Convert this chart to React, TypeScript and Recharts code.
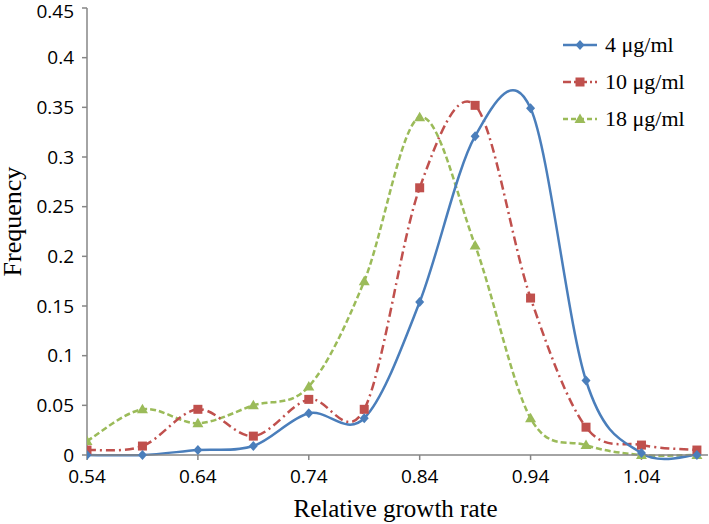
import React from "react";
import { LineChart, Line, XAxis, YAxis } from "recharts";

const growthRates = [0.54, 0.59, 0.64, 0.69, 0.74, 0.79, 0.84, 0.89, 0.94, 0.99, 1.04, 1.09];
const freq4 = [0, 0, 0.005, 0.009, 0.042, 0.037, 0.154, 0.321, 0.349, 0.075, 0.002, 0];
const freq10 = [0.005, 0.009, 0.046, 0.019, 0.056, 0.046, 0.269, 0.352, 0.158, 0.028, 0.01, 0.005];
const freq18 = [0.014, 0.046, 0.032, 0.05, 0.069, 0.175, 0.34, 0.211, 0.037, 0.01, 0, 0];
const xTicks = [0.54, 0.64, 0.74, 0.84, 0.94, 1.04];
const yTicks = [0, 0.05, 0.1, 0.15, 0.2, 0.25, 0.3, 0.35, 0.4, 0.45];

const data = growthRates.map((x, i) => ({
  x,
  s4: freq4[i],
  s10: freq10[i],
  s18: freq18[i],
}));

const BLUE = "#4a7ebb";
const RED = "#c0504d";
const GREEN = "#9bbb59";
const AXIS = "#868686";
const SERIF = "'Liberation Serif', 'Times New Roman', serif";

// Excel-like smoothing (Catmull-Rom through every point)
const smoothCurve = (context: any) => {
  let pts: number[][] = [];
  return {
    areaStart() {},
    areaEnd() {},
    lineStart() {
      pts = [];
    },
    point(x: number, y: number) {
      pts.push([+x, +y]);
    },
    lineEnd() {
      if (!pts.length) return;
      context.moveTo(pts[0][0], pts[0][1]);
      for (let i = 1; i < pts.length; i++) {
        const p0 = pts[i - 2] || pts[i - 1];
        const p1 = pts[i - 1];
        const p2 = pts[i];
        const p3 = pts[i + 1] || pts[i];
        context.bezierCurveTo(
          p1[0] + (p2[0] - p0[0]) / 6,
          p1[1] + (p2[1] - p0[1]) / 6,
          p2[0] - (p3[0] - p1[0]) / 6,
          p2[1] - (p3[1] - p1[1]) / 6,
          p2[0],
          p2[1]
        );
      }
    },
  };
};

const diamond = (cx: number, cy: number, key?: any) => (
  <path
    key={key}
    d={`M${cx},${cy - 5}L${cx + 4.5},${cy}L${cx},${cy + 5}L${cx - 4.5},${cy}Z`}
    fill={BLUE}
  />
);
const square = (cx: number, cy: number, key?: any) => (
  <rect key={key} x={cx - 4.5} y={cy - 4.5} width={9} height={9} fill={RED} />
);
const triangle = (cx: number, cy: number, key?: any) => (
  <path
    key={key}
    d={`M${cx},${cy - 5.5}L${cx + 5.5},${cy + 4}L${cx - 5.5},${cy + 4}Z`}
    fill={GREEN}
  />
);

const legendItems = [
  { name: "4 μg/ml", color: BLUE, dash: undefined, marker: diamond },
  { name: "10 μg/ml", color: RED, dash: "8 3 2 3", marker: square },
  { name: "18 μg/ml", color: GREEN, dash: "5 3", marker: triangle },
];

function ChartLegend() {
  return (
    <svg width={146} height={120}>
      {legendItems.map((it, i) => {
        const y = 11 + i * 37;
        return (
          <g key={it.name}>
            <line x1={0} x2={34} y1={y} y2={y} stroke={it.color} strokeWidth={2.5} strokeDasharray={it.dash} />
            {it.marker(17, y)}
            <text x={42} y={y + 7} fontFamily={SERIF} fontSize={22} fill="#000">
              {it.name}
            </text>
          </g>
        );
      })}
    </svg>
  );
}

const tickStyle = { fontFamily: "'Open Sans', sans-serif", fontSize: 19, fill: "#000" };

const YTitle = (props: any) => {
  const vb = props.viewBox;
  const cy = vb.y + vb.height / 2 - 10;
  return (
    <text
      x={12}
      y={cy}
      transform={`rotate(-90, 12, ${cy})`}
      textAnchor="middle"
      dominantBaseline="central"
      fontFamily={SERIF}
      fontSize={26}
      fill="#000"
    >
      Frequency
    </text>
  );
};

const XTitle = (props: any) => {
  const vb = props.viewBox;
  return (
    <text x={vb.x + vb.width / 2 - 2} y={517} textAnchor="middle" fontFamily={SERIF} fontSize={25} fill="#000">
      Relative growth rate
    </text>
  );
};

export default function App() {
  return (
    <div style={{ position: "absolute", left: 0, top: 0, background: "#fff" }}>
      <div style={{ position: "relative", width: 709, height: 524 }}>
        <LineChart width={709} height={524} data={data} margin={{ top: 8, right: 1, bottom: 0, left: 0 }}>
          <XAxis
            dataKey="x"
            type="number"
            domain={[0.54, 1.1]}
            ticks={xTicks}
            allowDataOverflow
            stroke={AXIS}
            strokeWidth={1.5}
            tickSize={5}
            tickMargin={10}
            tick={tickStyle}
            tickLine={{ stroke: AXIS }}
            height={69}
            label={<XTitle />}
          />
          <XAxis xAxisId="top" orientation="top" dataKey="x" type="number" domain={[0.54, 1.1]} tick={false} tickLine={false} stroke={AXIS} strokeWidth={1.5} height={0} />
          <YAxis
            domain={[0, 0.45]}
            ticks={yTicks}
            stroke={AXIS}
            strokeWidth={1.5}
            tickSize={5}
            tickMargin={8}
            tick={tickStyle}
            tickLine={{ stroke: AXIS }}
            width={87}
            label={<YTitle />}
          />
          <YAxis yAxisId="right" orientation="right" domain={[0, 0.45]} tick={false} tickLine={false} stroke={AXIS} strokeWidth={1.5} width={0} />
          <Line
            dataKey="s18"
            type={smoothCurve as any}
            stroke={GREEN}
            strokeWidth={2.5}
            strokeDasharray="6 3"
            dot={(p: any) => triangle(p.cx, p.cy, p.key)}
            isAnimationActive={false}
          />
          <Line
            dataKey="s10"
            type={smoothCurve as any}
            stroke={RED}
            strokeWidth={2.5}
            strokeDasharray="9 4 2 4"
            dot={(p: any) => square(p.cx, p.cy, p.key)}
            isAnimationActive={false}
          />
          <Line
            dataKey="s4"
            type={smoothCurve as any}
            stroke={BLUE}
            strokeWidth={2.5}
            dot={(p: any) => diamond(p.cx, p.cy, p.key)}
            isAnimationActive={false}
          />
        </LineChart>
        <div style={{ position: "absolute", left: 563, top: 34 }}>
          <ChartLegend />
        </div>
      </div>
    </div>
  );
}
